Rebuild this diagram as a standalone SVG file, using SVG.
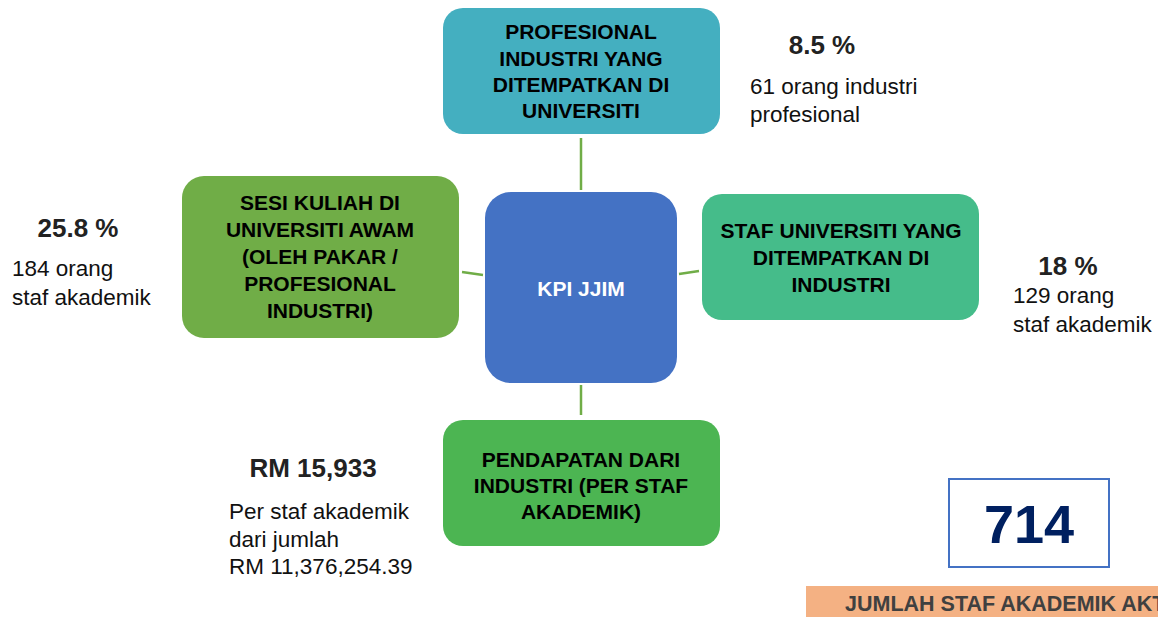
<svg xmlns="http://www.w3.org/2000/svg" width="1158" height="617" viewBox="0 0 1158 617">
<style>
.nt{font-family:"Liberation Sans",Arial,sans-serif;font-weight:bold;font-size:21px;fill:#000;text-anchor:middle}
.pct{font-family:"Liberation Sans",Arial,sans-serif;font-weight:bold;font-size:26px;fill:#222;text-anchor:middle}
.lbl{font-family:"Liberation Sans",Arial,sans-serif;font-size:22.5px;fill:#111}
.conn{stroke:#70AD47;stroke-width:2.5;fill:none}
</style>
<rect width="1158" height="617" fill="#fff"/>
<g id="connectors">
<line class="conn" x1="581" y1="138" x2="581" y2="190"/>
<line class="conn" x1="462" y1="272" x2="483" y2="275"/>
<line class="conn" x1="679" y1="274" x2="699" y2="271"/>
<line class="conn" x1="581" y1="385" x2="581" y2="415"/>
</g>
<g id="node-top">
<rect x="443" y="8" width="277" height="126" rx="20" fill="#44AFC0"/>
<text class="nt" x="581" y="39">PROFESIONAL</text>
<text class="nt" x="581" y="66">INDUSTRI YANG</text>
<text class="nt" x="581" y="92">DITEMPATKAN DI</text>
<text class="nt" x="581" y="118">UNIVERSITI</text>
</g>
<g id="node-center">
<rect x="485" y="192" width="192" height="191" rx="26" fill="#4472C4"/>
<text class="nt" x="581" y="296" style="fill:#fff">KPI JJIM</text>
</g>
<g id="node-left">
<rect x="182" y="176" width="277" height="162" rx="22" fill="#70AD47"/>
<text class="nt" x="320" y="210">SESI KULIAH DI</text>
<text class="nt" x="320" y="237">UNIVERSITI AWAM</text>
<text class="nt" x="320" y="264">(OLEH PAKAR /</text>
<text class="nt" x="320" y="291">PROFESIONAL</text>
<text class="nt" x="320" y="318">INDUSTRI)</text>
</g>
<g id="node-right">
<rect x="702" y="194" width="277" height="126" rx="20" fill="#45BC8A"/>
<text class="nt" x="841" y="238">STAF UNIVERSITI YANG</text>
<text class="nt" x="841" y="265">DITEMPATKAN DI</text>
<text class="nt" x="841" y="292">INDUSTRI</text>
</g>
<g id="node-bottom">
<rect x="443" y="420" width="277" height="126" rx="20" fill="#4CB552"/>
<text class="nt" x="581" y="467">PENDAPATAN DARI</text>
<text class="nt" x="581" y="493">INDUSTRI (PER STAF</text>
<text class="nt" x="581" y="519">AKADEMIK)</text>
</g>
<g id="stats">
<text class="pct" x="822" y="54">8.5 %</text>
<text class="lbl" x="750" y="94">61 orang industri</text>
<text class="lbl" x="750" y="122">profesional</text>
<text class="pct" x="78" y="237">25.8 %</text>
<text class="lbl" x="12" y="276">184 orang</text>
<text class="lbl" x="12" y="305">staf akademik</text>
<text class="pct" x="1068" y="275">18 %</text>
<text class="lbl" x="1013" y="303">129 orang</text>
<text class="lbl" x="1013" y="332">staf akademik</text>
<text class="pct" x="313" y="477">RM 15,933</text>
<text class="lbl" x="229" y="519">Per staf akademik</text>
<text class="lbl" x="229" y="547">dari jumlah</text>
<text class="lbl" x="229" y="574">RM 11,376,254.39</text>
</g>
<g id="total">
<rect x="949" y="479" width="160" height="88" fill="#fff" stroke="#4472C4" stroke-width="2"/>
<text x="1029" y="543" font-family="Liberation Sans,Arial,sans-serif" font-weight="bold" font-size="54" fill="#002060" text-anchor="middle">714</text>
</g>
<g id="banner">
<rect x="806" y="586" width="352" height="31" fill="#F4B183"/>
<text x="845" y="611" font-family="Liberation Sans,Arial,sans-serif" font-weight="bold" font-size="21.5" fill="#404040">JUMLAH STAF AKADEMIK AKTIF</text>
</g>
</svg>
